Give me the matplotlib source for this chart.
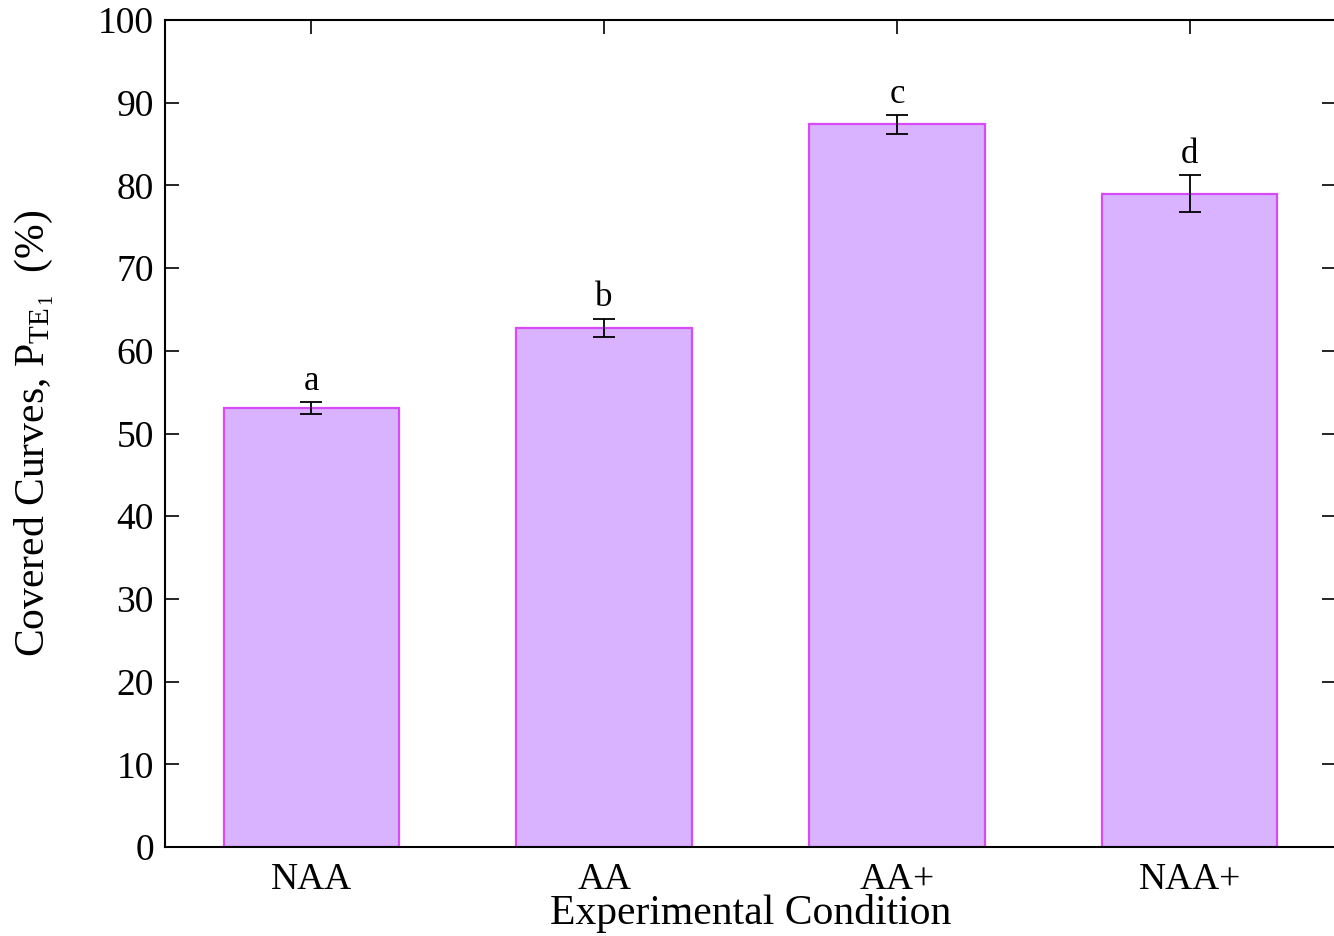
import matplotlib
matplotlib.use("Agg")
import matplotlib.pyplot as plt

categories = ["NAA", "AA", "AA+", "NAA+"]
values = [53.1, 62.8, 87.4, 79.0]
errors = [0.7, 1.1, 1.15, 2.2]
letters = ["a", "b", "c", "d"]
yticks = [0, 10, 20, 30, 40, 50, 60, 70, 80, 90, 100]

plt.rcParams['font.family'] = ['Liberation Serif', 'DejaVu Serif']
plt.rcParams['mathtext.fontset'] = 'custom'
plt.rcParams['mathtext.rm'] = 'Liberation Serif'
plt.rcParams['mathtext.it'] = 'Liberation Serif:italic'

fig = plt.figure(figsize=(13.34, 9.36), dpi=100)
ax = fig.add_axes([0.1237, 0.0951, 0.8778, 0.8835])

x = list(range(1, len(categories) + 1))
ax.bar(x, values, width=0.6, color="#D9B3FF", edgecolor="#D84AF8", linewidth=1.6, zorder=2)
ax.errorbar(x, values, yerr=errors, fmt="none", ecolor="black", elinewidth=1.3,
            capsize=8, capthick=1.3, zorder=3)
for xi, v, e, t in zip(x, values, errors, letters):
    ax.annotate(t, (xi, v + e), xytext=(0, 3), textcoords="offset points",
                ha="center", va="bottom", fontsize=25)

ax.set_xlim(0.5, 4.5)
ax.set_ylim(0, 100)
ax.set_yticks(yticks)
ax.set_xticks(x)
ax.set_xticklabels(categories)
ax.tick_params(axis="both", direction="in", labelsize=27, length=10, width=1.2,
               top=True, right=True)
ax.tick_params(axis="x", pad=11)
ax.tick_params(axis="y", pad=8)
for s in ax.spines.values():
    s.set_linewidth(1.5)

ax.set_xlabel("Experimental Condition", fontsize=30, labelpad=-2)
ax.set_ylabel(r"Covered Curves, $\mathrm{P}_{\mathrm{TE}_{\,1}}$  (%)", fontsize=30, labelpad=30)

fig.savefig("out.png", dpi=100)
